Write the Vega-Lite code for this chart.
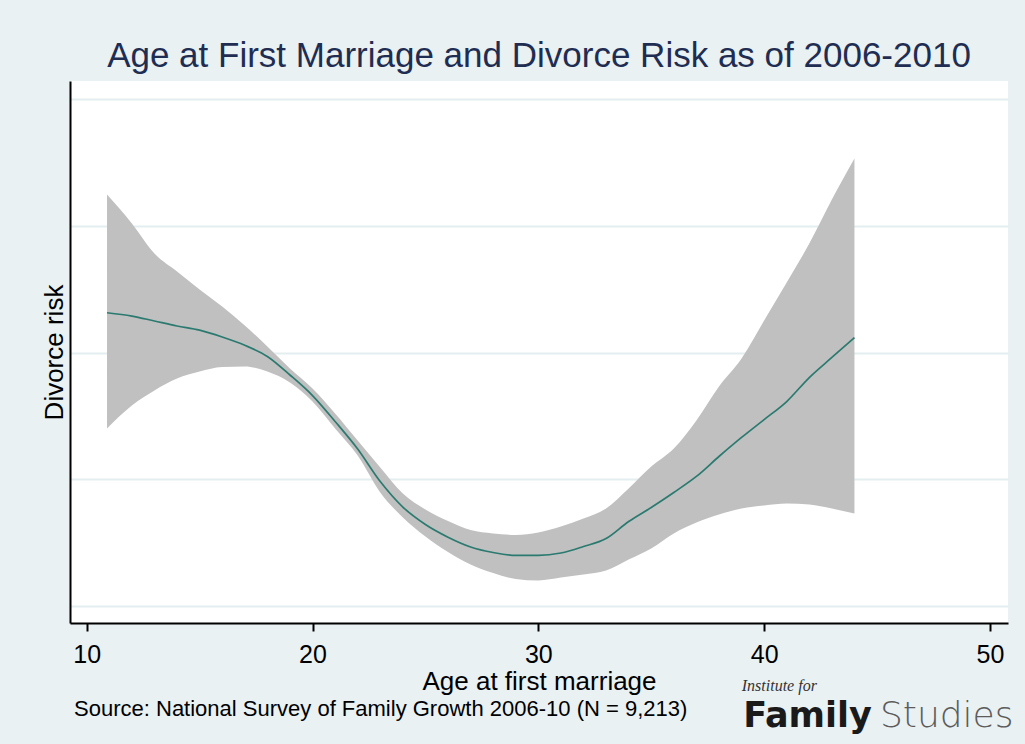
{
  "$schema": "https://vega.github.io/schema/vega-lite/v6.json",
  "width": 938,
  "height": 542,
  "autosize": {"type": "none"},
  "padding": {"left": 70, "top": 81, "right": 17, "bottom": 121},
  "background": "#e9f1f3",
  "config": {"view": {"fill": "white", "stroke": null}, "font": "Liberation Sans"},
  "title": {"text": "Age at First Marriage and Divorce Risk as of 2006-2010", "fontSize": 35, "font": "Liberation Sans", "fontWeight": "normal", "color": "#1f2d52", "frame": "group", "anchor": "middle", "offset": 7},
  "datasets": {
    "fit": [
      {"age": 10.9, "fit": 2.313, "lower": 1.402, "upper": 3.244},
      {"age": 12, "fit": 2.287, "lower": 1.583, "upper": 3.016},
      {"age": 13, "fit": 2.248, "lower": 1.701, "upper": 2.780},
      {"age": 14, "fit": 2.209, "lower": 1.795, "upper": 2.638},
      {"age": 15, "fit": 2.176, "lower": 1.850, "upper": 2.496},
      {"age": 16, "fit": 2.122, "lower": 1.886, "upper": 2.362},
      {"age": 17, "fit": 2.057, "lower": 1.890, "upper": 2.213},
      {"age": 18, "fit": 1.969, "lower": 1.850, "upper": 2.047},
      {"age": 19, "fit": 1.823, "lower": 1.764, "upper": 1.874},
      {"age": 20, "fit": 1.661, "lower": 1.614, "upper": 1.717},
      {"age": 21, "fit": 1.457, "lower": 1.402, "upper": 1.520},
      {"age": 22, "fit": 1.240, "lower": 1.189, "upper": 1.307},
      {"age": 23, "fit": 0.984, "lower": 0.898, "upper": 1.094},
      {"age": 24, "fit": 0.783, "lower": 0.701, "upper": 0.890},
      {"age": 25, "fit": 0.646, "lower": 0.551, "upper": 0.764},
      {"age": 26, "fit": 0.546, "lower": 0.429, "upper": 0.673},
      {"age": 27, "fit": 0.469, "lower": 0.331, "upper": 0.602},
      {"age": 28, "fit": 0.425, "lower": 0.264, "upper": 0.575},
      {"age": 29, "fit": 0.402, "lower": 0.217, "upper": 0.563},
      {"age": 30, "fit": 0.402, "lower": 0.205, "upper": 0.583},
      {"age": 31, "fit": 0.421, "lower": 0.228, "upper": 0.630},
      {"age": 32, "fit": 0.472, "lower": 0.252, "upper": 0.693},
      {"age": 33, "fit": 0.535, "lower": 0.283, "upper": 0.772},
      {"age": 34, "fit": 0.669, "lower": 0.370, "upper": 0.929},
      {"age": 35, "fit": 0.780, "lower": 0.457, "upper": 1.102},
      {"age": 36, "fit": 0.898, "lower": 0.575, "upper": 1.244},
      {"age": 37, "fit": 1.024, "lower": 0.661, "upper": 1.465},
      {"age": 38, "fit": 1.181, "lower": 0.724, "upper": 1.732},
      {"age": 39, "fit": 1.331, "lower": 0.772, "upper": 1.953},
      {"age": 40, "fit": 1.472, "lower": 0.795, "upper": 2.252},
      {"age": 41, "fit": 1.614, "lower": 0.811, "upper": 2.551},
      {"age": 42, "fit": 1.803, "lower": 0.803, "upper": 2.858},
      {"age": 43, "fit": 1.961, "lower": 0.772, "upper": 3.205},
      {"age": 44, "fit": 2.118, "lower": 0.732, "upper": 3.528}
    ]
  },
  "layer": [
    {
      "data": {"name": "fit"},
      "mark": {"type": "area", "color": "#c0c0c0", "opacity": 1, "interpolate": "monotone"},
      "encoding": {
        "x": {
          "field": "age", "type": "quantitative", "title": "Age at first marriage",
          "scale": {"domain": [9.26, 50.8], "nice": false, "zero": false},
          "axis": {"values": [10, 20, 30, 40, 50], "grid": false, "domainColor": "black", "domainWidth": 2, "tickColor": "black", "tickWidth": 2, "tickSize": 8, "labelFontSize": 25, "labelColor": "black", "labelPadding": 11, "labelFlush": false, "labelFont": "Liberation Sans", "titleFont": "Liberation Sans", "titleFontSize": 26, "titleFontWeight": "normal", "titleColor": "black", "titlePadding": 1}
        },
        "y": {
          "field": "lower", "type": "quantitative", "title": "Divorce risk",
          "scale": {"domain": [-0.13, 4.138], "nice": false, "zero": false},
          "axis": {"values": [0, 1, 2, 3, 4], "labels": false, "ticks": false, "grid": true, "gridColor": "#e4eef0", "gridWidth": 2, "domainColor": "black", "domainWidth": 2, "titleFont": "Liberation Sans", "titleFontSize": 26, "titleFontWeight": "normal", "titleColor": "black", "titlePadding": 3}
        },
        "y2": {"field": "upper"}
      }
    },
    {
      "data": {"name": "fit"},
      "mark": {"type": "line", "color": "#2b7a70", "strokeWidth": 1.7, "interpolate": "monotone"},
      "encoding": {
        "x": {"field": "age", "type": "quantitative", "title": "Age at first marriage"},
        "y": {"field": "fit", "type": "quantitative", "title": "Divorce risk"}
      }
    },
    {
      "data": {"values": [{"label": "Source: National Survey of Family Growth 2006-10 (N = 9,213)"}]},
      "mark": {"type": "text", "align": "left", "baseline": "alphabetic", "fontSize": 22, "font": "Liberation Sans", "color": "black"},
      "encoding": {
        "x": {"datum": 9.44, "type": "quantitative", "title": "Age at first marriage"},
        "y": {"datum": -0.86, "type": "quantitative", "title": "Divorce risk"},
        "text": {"field": "label"}
      }
    },
    {
      "data": {"values": [{"label": "Institute for"}]},
      "mark": {"type": "text", "align": "left", "baseline": "alphabetic", "fontSize": 16, "font": "Liberation Serif", "fontStyle": "italic", "color": "#333333"},
      "encoding": {
        "x": {"datum": 39.01, "type": "quantitative", "title": "Age at first marriage"},
        "y": {"datum": -0.665, "type": "quantitative", "title": "Divorce risk"},
        "text": {"field": "label"}
      }
    },
    {
      "data": {"values": [{"label": "Family"}]},
      "mark": {"type": "text", "align": "left", "baseline": "alphabetic", "fontSize": 35, "font": "DejaVu Sans", "fontWeight": "bold", "color": "#1a1a1a"},
      "encoding": {
        "x": {"datum": 39.07, "type": "quantitative", "title": "Age at first marriage"},
        "y": {"datum": -0.949, "type": "quantitative", "title": "Divorce risk"},
        "text": {"field": "label"}
      }
    },
    {
      "data": {"values": [{"label": "Studies"}]},
      "mark": {"type": "text", "align": "left", "baseline": "alphabetic", "fontSize": 36, "font": "DejaVu Sans", "fontWeight": 200, "color": "#5c5c5c"},
      "encoding": {
        "x": {"datum": 45.13, "type": "quantitative", "title": "Age at first marriage"},
        "y": {"datum": -0.949, "type": "quantitative", "title": "Divorce risk"},
        "text": {"field": "label"}
      }
    }
  ]
}
